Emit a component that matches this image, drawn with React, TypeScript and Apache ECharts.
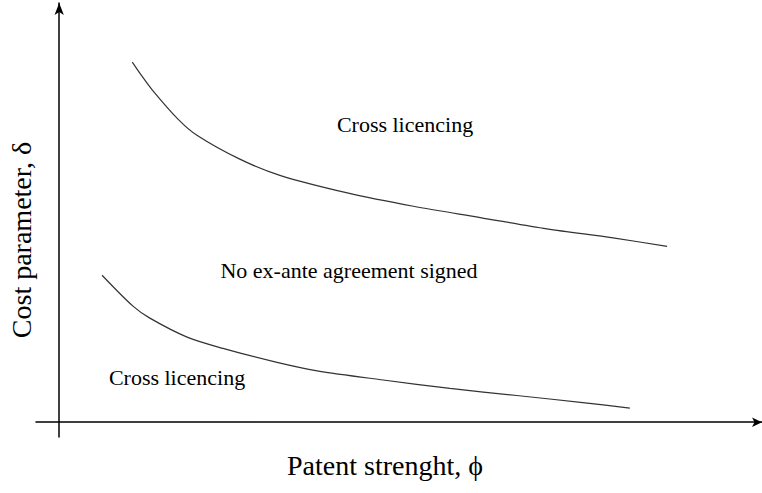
import React, { useEffect, useRef } from "react";
import * as echarts from "echarts";

const upperX = [1.04, 1.15, 1.32, 1.69, 1.96, 2.57, 3.14, 4.1, 5.04, 5.99, 6.94, 7.88, 8.65];
const upperY = [5.12, 4.96, 4.73, 4.31, 4.08, 3.74, 3.51, 3.26, 3.07, 2.91, 2.75, 2.62, 2.5];
const lowerX = [0.61, 1.05, 1.29, 1.82, 2.33, 3.1, 3.67, 4.61, 5.56, 6.51, 7.45, 8.12];
const lowerY = [2.09, 1.65, 1.48, 1.21, 1.05, 0.85, 0.73, 0.6, 0.48, 0.38, 0.28, 0.2];
const regionLabels = ["Cross licencing", "No ex-ante agreement signed", "Cross licencing"];
const xTitle = "Patent strenght, \u03d5";
const yTitle = "Cost parameter, \u03b4";

const serif = "'Liberation Serif', 'Times New Roman', serif";

export default function App() {
  const ref = useRef<HTMLDivElement>(null);
  useEffect(() => {
    if (!ref.current) return;
    const chart = echarts.init(ref.current, null, { renderer: "svg" });
    const pair = (xs: number[], ys: number[]) => xs.map((x, i) => [x, ys[i]]);
    const axisLine = { lineStyle: { color: "#000", width: 1.5 } };
    const label = (text: string, x: number, y: number, size: number, rotation = 0) => ({
      type: "text",
      x,
      y,
      rotation,
      style: { text, font: `${size}px ${serif}`, fill: "#000", align: "center", verticalAlign: "middle" },
    });
    chart.setOption({
      animation: false,
      backgroundColor: "#fff",
      grid: { left: 36, right: 0, top: 3, bottom: 56, containLabel: false, outerBoundsMode: "none" },
      xAxis: {
        type: "value",
        min: -0.33,
        max: 10,
        axisLine: { ...axisLine, onZero: true, symbol: ["none", "arrow"], symbolSize: [7, 10] },
        axisTick: { show: false },
        axisLabel: { show: false },
        splitLine: { show: false },
      },
      yAxis: {
        type: "value",
        min: -0.21,
        max: 5.96,
        axisLine: { ...axisLine, onZero: true, symbol: ["none", "arrow"], symbolSize: [7, 12] },
        axisTick: { show: false },
        axisLabel: { show: false },
        splitLine: { show: false },
      },
      series: [
        {
          type: "line",
          data: pair(upperX, upperY),
          smooth: 0.3,
          showSymbol: false,
          lineStyle: { color: "#333", width: 1.2 },
        },
        {
          type: "line",
          data: pair(lowerX, lowerY),
          smooth: 0.3,
          showSymbol: false,
          lineStyle: { color: "#333", width: 1.2 },
        },
      ],
      graphic: [
        label(regionLabels[0], 405, 124, 22),
        label(regionLabels[1], 349, 270, 22),
        label(regionLabels[2], 177, 377, 22),
        label(xTitle, 385, 465, 28),
        label(yTitle, 21, 240, 28, Math.PI / 2),
      ],
    });
    return () => chart.dispose();
  }, []);
  return <div ref={ref} style={{ width: 762, height: 493, position: "fixed", left: 0, top: 0 }} />;
}
